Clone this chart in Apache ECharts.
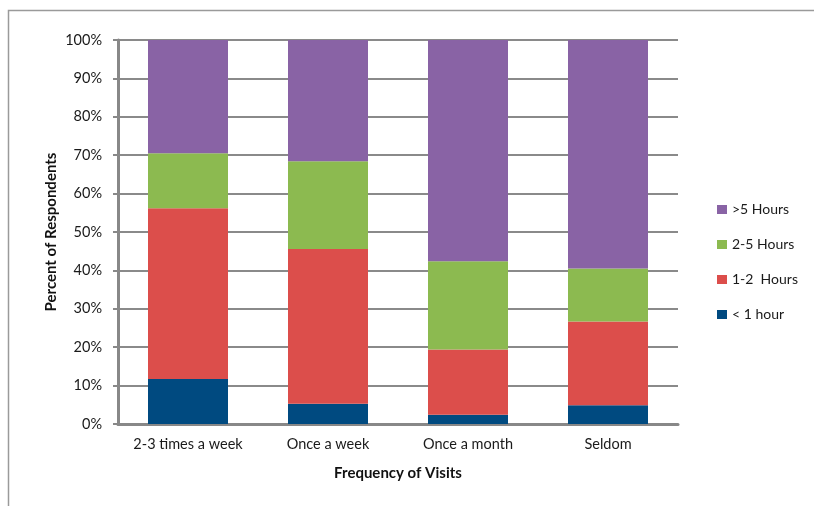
<!DOCTYPE html>
<html>
<head>
<meta charset="utf-8">
<script src="https://cdn.jsdelivr.net/npm/echarts@6/dist/echarts.min.js"></script>
<style>
html,body{margin:0;padding:0;background:#fff;}
#chart{width:814px;height:506px;}
</style>
</head>
<body>
<div id="chart"></div>
<script>
const categories = ['2-3 times a week', 'Once a week', 'Once a month', 'Seldom'];
const seriesNames = ['< 1 hour', '1-2  Hours', '2-5 Hours', '>5 Hours'];
const lessThan1 = [11.7, 5.3, 2.4, 4.9];
const oneToTwo = [44.5, 40.3, 17.0, 21.8];
const twoToFive = [14.3, 22.8, 23.0, 13.8];
const moreThan5 = [29.5, 31.6, 57.6, 59.5];
const colors = ['#004a80', '#dc4e4b', '#8cba50', '#8963a5'];
const yTicks = [0, 10, 20, 30, 40, 50, 60, 70, 80, 90, 100];

const values = [lessThan1, oneToTwo, twoToFive, moreThan5];
const font = 'Lato, "Open Sans", sans-serif';
const chart = echarts.init(document.getElementById('chart'));
chart.setOption({
  animation: false,
  backgroundColor: '#fff',
  graphic: [{
    type: 'polyline',
    shape: { points: [[8.5, 506], [8.5, 10.5], [814, 10.5]] },
    style: { stroke: '#9a9a9a', lineWidth: 1.5, fill: null }
  }],
  grid: { left: 118, top: 40, width: 560, height: 384 },
  legend: {
    orient: 'vertical',
    left: 712,
    top: 197,
    itemWidth: 10,
    itemHeight: 9,
    itemGap: 20,
    icon: 'rect',
    textStyle: { fontFamily: font, fontSize: 14, color: '#1a1a1a', lineHeight: 15 },
    data: ['>5 Hours', '2-5 Hours', '1-2  Hours', '< 1 hour']
  },
  xAxis: {
    type: 'category',
    data: categories,
    name: 'Frequency of Visits',
    nameLocation: 'middle',
    nameGap: 42,
    nameMoveOverlap: false,
    nameTextStyle: { fontFamily: font, fontSize: 15, fontWeight: 'bold', color: '#111' },
    axisLine: { lineStyle: { color: '#888', width: 3 } },
    axisTick: { show: false },
    axisLabel: { fontFamily: font, fontSize: 14.5, color: '#1a1a1a', margin: 13, interval: 0 }
  },
  yAxis: {
    type: 'value',
    min: 0,
    max: 100,
    interval: 10,
    name: 'Percent of Respondents',
    nameLocation: 'middle',
    nameGap: 59,
    nameMoveOverlap: false,
    nameTextStyle: { fontFamily: font, fontSize: 15, fontWeight: 'bold', color: '#111' },
    axisLine: { show: true, lineStyle: { color: '#888', width: 3 } },
    axisTick: { show: true, length: 5, lineStyle: { color: '#888', width: 2 } },
    splitLine: { lineStyle: { color: '#8a8a8a', width: 2 } },
    axisLabel: {
      fontFamily: font, fontSize: 14.5, color: '#1a1a1a', margin: 16,
      formatter: v => (yTicks.indexOf(v) >= 0 ? v + '%' : '')
    }
  },
  series: seriesNames.map((n, i) => ({
    name: n,
    type: 'bar',
    stack: 'total',
    barWidth: 80,
    data: values[i],
    itemStyle: { color: colors[i] }
  }))
});
</script>
</body>
</html>
